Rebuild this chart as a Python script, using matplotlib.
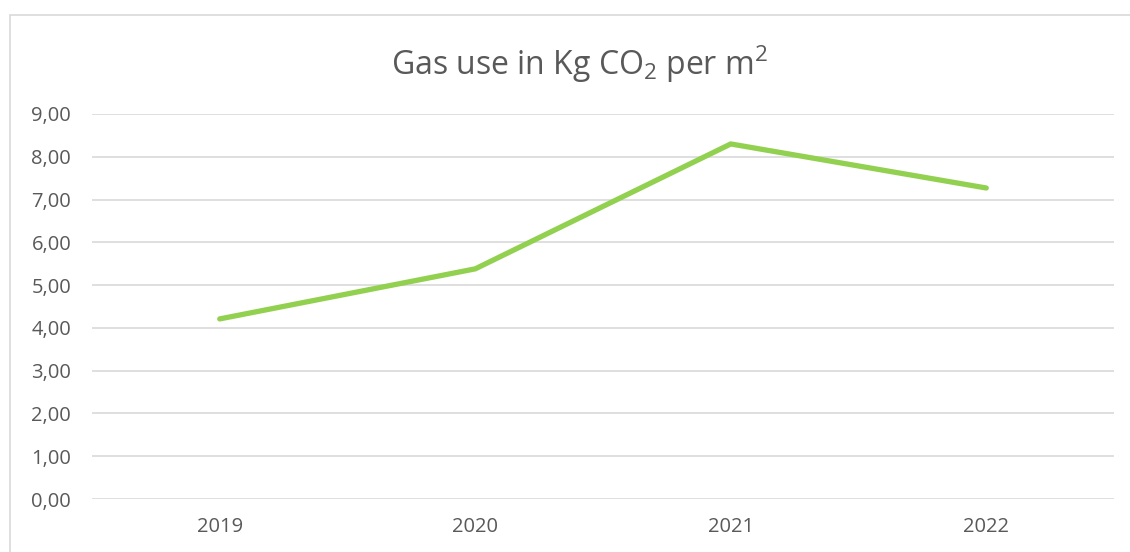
import matplotlib
matplotlib.use("Agg")
import matplotlib.pyplot as plt
from matplotlib.patches import Rectangle

years = ["2019", "2020", "2021", "2022"]
gas_kg_co2 = [4.21, 5.38, 8.30, 7.27]
yticks = [0, 1, 2, 3, 4, 5, 6, 7, 8, 9]

plt.rcParams['font.family'] = ['Open Sans', 'DejaVu Sans']
plt.rcParams['mathtext.fontset'] = 'custom'
plt.rcParams['mathtext.rm'] = 'Open Sans'

W, H = 1130, 552
fig = plt.figure(figsize=(W / 100, H / 100), dpi=100)
fig.patch.set_facecolor('white')

# chart border (cut off at right/bottom like the screenshot)
fig.patches.append(Rectangle((10 / W, -0.1), 1.2, 1 - 15 / H + 0.1,
                             transform=fig.transFigure, fill=False,
                             edgecolor='#d9d9d9', lw=1.2))

ax = fig.add_axes([92 / W, 1 - 499 / H, (1114 - 92) / W, (499 - 114) / H])
x = list(range(len(years)))
ax.plot(x, gas_kg_co2, color='#92d050', lw=3.8, solid_capstyle='round',
        solid_joinstyle='round', zorder=3)

ax.set_xlim(-0.5, len(years) - 0.5)
ax.set_ylim(0, 9)
ax.set_yticks(yticks)
ax.set_yticklabels([f"{v:.2f}".replace('.', ',') for v in yticks])
ax.set_xticks(x)
ax.set_xticklabels(years)
ax.grid(axis='y', color='#d9d9d9', lw=1.2)
ax.set_axisbelow(True)
for s in ax.spines.values():
    s.set_visible(False)
ax.tick_params(length=0, labelsize=14.5, colors='#595959')
ax.tick_params(axis='x', pad=13)
ax.tick_params(axis='y', pad=15)

fig.text(579 / W, 1 - 64 / H, r"Gas use in Kg CO$_\mathregular{2}$ per m$^\mathregular{2}$",
         ha='center', va='center', fontsize=23, color='#595959')

fig.savefig("out.png", dpi=100)
